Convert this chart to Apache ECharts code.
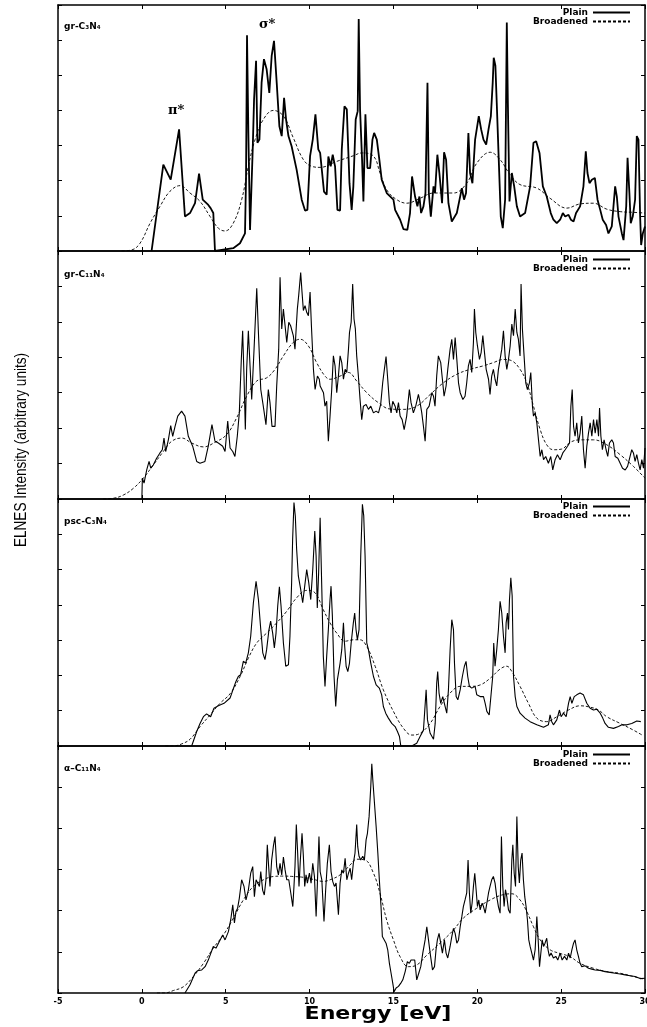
<!DOCTYPE html>
<html>
<head>
<meta charset="utf-8">
<title>ELNES</title>
<script src="https://cdn.jsdelivr.net/npm/echarts@6/dist/echarts.min.js"></script>
<style>
html,body{margin:0;padding:0;background:#fff;}
#main{width:647px;height:1027px;}
</style>
</head>
<body>
<div id="main"></div>
<script>
// panel labels and axis texts
var panelNames = ['gr-C₃N₄', 'gr-C₁₁N₄', 'psc-C₃N₄', 'α–C₁₁N₄'];
var seriesNames = ['Plain', 'Broadened'];
var xName = 'Energy [eV]';
var yName = 'ELNES Intensity (arbitrary units)';
var xMin = -5, xMax = 30, xStep = 5;
var yMax = [7, 7, 7, 6];

// gr-C3N4  [energy eV, intensity]
var plain1 = [[0.58,0],[1.28,2.46],[1.72,2.03],[2.22,3.46],[2.57,0.98],[2.87,1.08],[3.17,1.36],[3.41,2.2],[3.63,1.46],[3.96,1.31],[4.1,1.22],[4.26,1.08],[4.36,0],[5.45,0.08],[5.85,0.22],[6.15,0.5],[6.21,2.03],[6.27,6.14],[6.35,3.36],[6.45,0.6],[6.61,2.89],[6.69,4.31],[6.81,5.41],[6.89,3.08],[7.01,3.17],[7.14,4.79],[7.28,5.46],[7.44,5.17],[7.6,4.5],[7.74,5.55],[7.88,5.98],[8.04,4.79],[8.2,3.55],[8.34,3.27],[8.48,4.36],[8.6,3.74],[8.74,3.27],[8.93,2.98],[9.23,2.31],[9.53,1.46],[9.73,1.15],[9.87,1.17],[10.03,2.7],[10.19,3.17],[10.35,3.89],[10.52,2.89],
  [10.63,2.79],[10.86,1.69],[11.02,1.6],[11.12,2.69],[11.26,2.41],[11.38,2.74],[11.52,2.41],[11.66,1.17],[11.82,1.15],[11.92,2.89],[12.08,4.12],[12.22,4.03],[12.38,1.93],[12.51,1.17],[12.61,1.84],[12.75,3.74],[12.87,3.98],[12.93,6.6],[13.01,4.03],[13.13,2.6],[13.21,1.41],[13.33,3.89],[13.45,2.36],[13.61,2.36],[13.75,3.17],[13.85,3.36],[14.01,3.17],[14.16,2.6],[14.3,2.03],[14.6,1.65],[15.0,1.46],[15.1,1.17],[15.4,0.89],[15.6,0.62],[15.83,0.6],[15.99,1.08],[16.11,2.12],[16.29,1.55],[16.43,1.27],[16.55,1.55],[16.65,1.08],[16.79,1.27],[16.91,1.65],[17.03,4.79],[17.11,1.65],[17.23,0.98],[17.39,1.84],[17.48,1.65],[17.62,2.74],[17.74,2.22],[17.9,1.36],[18.02,2.81],[18.14,2.6],[18.28,1.36],[18.48,0.84],[18.78,1.08],[19.08,1.79],[19.21,1.46],[19.33,1.65],[19.47,3.36],[19.57,2.22],[19.71,1.93],[19.87,3.17],[20.09,3.84],[20.23,3.46],[20.37,3.17],[20.53,3.03],[20.67,3.46],[20.81,3.84],[20.92,4.79],[20.98,5.5],[21.08,5.27],[21.16,4.22],[21.28,2.6],[21.4,0.98],[21.52,0.65],[21.66,1.46],[21.76,6.5],[21.82,4.31],[21.92,1.41],[22.06,2.22],[22.2,1.84],[22.36,1.27],[22.55,0.98],[22.85,1.08],[23.15,1.84],[23.35,3.08],[23.51,3.12],[23.71,2.79],[23.91,1.84],[24.14,1.55],[24.38,1.08],[24.54,0.89],[24.74,0.79],[24.94,0.89],[25.1,1.08],[25.24,0.98],[25.44,1.03],[25.58,0.89],[25.74,0.84],[25.89,1.08],[26.13,1.27],[26.33,1.84],[26.47,2.84],[26.57,2.22],[26.69,1.93],[26.83,2.03],[27.01,2.08],[27.17,1.46],[27.33,1.17],[27.48,0.89],[27.68,0.74],[27.82,0.5],[28.02,0.7],[28.12,1.27],[28.22,1.84],[28.32,1.55],[28.42,0.98],[28.62,0.5],[28.72,0.31],[28.88,1.27],[28.96,2.65],[29.07,1.65],[29.15,0.79],[29.27,0.98],[29.41,1.46],[29.51,3.27],[29.61,3.17],[29.71,0.98],[29.77,0.17],[29.87,0.5],[30,0.7]];
var broad1 = [[-1.2,0],[-0.6,0.03],[-0.11,0.22],[0.49,0.79],[1.08,1.27],[1.68,1.7],[2.28,1.86],[2.87,1.65],[3.47,1.41],[4.07,0.98],[4.56,0.65],[4.96,0.57],[5.45,0.79],[5.95,1.46],[6.35,2.41],[6.75,3.17],[7.24,3.74],[7.84,4.0],[8.44,3.84],[9.03,3.22],[9.63,2.6],[10.12,2.41],[10.63,2.38],[11.62,2.55],[12.61,2.71],[13.11,2.79],[13.81,2.7],[14.2,2.22],[14.6,1.74],[15.2,1.46],[15.8,1.36],[16.59,1.5],[17.39,1.65],[18.58,1.65],[19.37,1.93],[19.97,2.5],[20.77,2.81],[21.36,2.6],[21.96,2.17],[22.55,1.89],[23.55,1.79],[24.34,1.5],[25.34,1.22],[26.13,1.34],[26.93,1.36],[27.72,1.19],[28.52,1.12],[29.31,1.1],[30,1.08]];

// gr-C11N4
var plain2 = [[0,0],[0.03,0.59],[0.13,0.45],[0.29,0.82],[0.43,1.06],[0.53,0.87],[0.68,0.96],[0.88,1.15],[1.08,1.3],[1.22,1.39],[1.32,1.72],[1.42,1.34],[1.58,1.67],[1.72,2.07],[1.84,1.77],[1.98,2.05],[2.14,2.34],[2.37,2.48],[2.57,2.34],[2.77,1.77],[3.03,1.49],[3.27,1.06],[3.47,1.01],[3.76,1.06],[3.96,1.49],[4.18,2.1],[4.36,1.63],[4.56,1.58],[4.82,1.49],[4.96,1.34],[5.12,2.2],[5.26,1.44],[5.42,1.34],[5.55,1.2],[5.69,1.77],[5.81,2.43],[5.93,3.94],[6.01,4.75],[6.09,3.47],[6.17,1.96],[6.25,3.66],[6.35,4.75],[6.45,3.76],[6.55,2.81],[6.69,4.23],[6.85,5.95],[6.95,4.7],[7.09,3.09],[7.24,2.62],[7.4,2.1],[7.54,3.09],[7.64,2.72],[7.76,2.05],[7.94,2.05],[8.04,3.19],[8.16,4.23],[8.24,6.26],[8.34,4.8],[8.44,5.36],[8.54,4.89],[8.64,4.42],[8.76,4.99],[8.87,4.89],[9.03,4.61],[9.13,4.23],[9.27,5.36],[9.35,5.74],[9.47,6.39],[9.55,5.84],[9.63,5.32],[9.73,5.46],[9.83,5.27],[9.93,5.17],[10.03,5.84],[10.11,4.89],[10.23,3.66],[10.33,3.09],[10.47,3.47],[10.58,3.38],
  [10.63,3.19],[10.83,3.0],[10.92,2.62],[11.02,2.76],[11.12,1.63],[11.22,2.34],[11.32,3.09],[11.42,4.04],[11.52,3.76],[11.62,3.0],[11.72,3.47],[11.82,4.04],[11.92,3.85],[12.02,3.38],[12.12,3.66],[12.22,3.57],[12.32,4.23],[12.38,4.7],[12.48,4.99],[12.57,6.07],[12.65,5.08],[12.73,4.8],[12.81,4.04],[12.91,3.47],[13.01,2.81],[13.11,2.24],[13.21,2.62],[13.37,2.67],[13.51,2.53],[13.65,2.62],[13.81,2.43],[13.97,2.48],[14.11,2.43],[14.24,2.67],[14.36,3.28],[14.46,3.66],[14.56,4.02],[14.66,3.38],[14.76,2.72],[14.86,2.43],[14.96,2.76],[15.1,2.62],[15.2,2.43],[15.3,2.72],[15.4,2.34],[15.52,2.24],[15.64,1.96],[15.79,2.34],[15.95,3.09],[16.05,2.72],[16.19,2.43],[16.33,2.62],[16.49,2.95],[16.59,2.72],[16.69,2.43],[16.79,2.05],[16.89,1.63],[16.99,2.53],[17.13,2.62],[17.29,3.0],[17.39,2.9],[17.48,2.62],[17.58,3.47],[17.68,4.04],[17.82,3.85],[17.92,3.38],[18.02,2.9],[18.14,3.19],[18.24,3.66],[18.38,4.23],[18.48,4.51],[18.58,3.94],[18.68,4.56],[18.78,3.94],[18.88,3.28],[18.98,3.0],[19.14,2.81],[19.27,2.9],[19.37,3.28],[19.47,3.76],[19.57,3.94],[19.67,3.57],[19.77,4.42],[19.83,5.36],[19.91,4.7],[20.01,4.32],[20.13,3.94],[20.23,4.13],[20.33,4.61],[20.41,4.23],[20.53,3.66],[20.67,3.38],[20.76,2.95],[20.86,3.47],[20.96,3.66],[21.06,3.38],[21.16,3.19],[21.26,3.66],[21.36,3.94],[21.46,4.23],[21.56,4.75],[21.66,4.04],[21.76,3.66],[21.86,3.94],[21.96,4.32],[22.06,4.94],[22.16,4.61],[22.26,5.36],[22.36,4.7],[22.45,4.51],[22.55,4.04],[22.61,6.07],[22.69,4.8],[22.79,4.04],[22.89,3.28],[22.99,3.09],[23.11,3.28],[23.19,3.57],[23.29,2.62],[23.35,2.34],[23.45,2.43],[23.55,2.15],[23.65,1.67],[23.75,1.2],[23.85,1.39],[23.95,1.11],[24.08,1.2],[24.24,1.01],[24.38,1.2],[24.5,0.82],[24.64,1.11],[24.78,1.25],[24.94,1.11],[25.1,1.3],[25.24,1.39],[25.38,1.49],[25.5,1.58],[25.58,2.62],[25.66,3.09],[25.74,2.05],[25.83,1.77],[25.93,2.15],[26.03,1.58],[26.13,1.86],[26.23,2.34],[26.33,1.39],[26.43,0.87],[26.53,1.49],[26.63,1.86],[26.73,2.15],[26.83,1.77],[26.93,2.24],[27.03,1.86],[27.13,2.24],[27.23,1.77],[27.29,2.57],[27.37,1.77],[27.46,1.39],[27.56,1.67],[27.68,1.39],[27.78,1.2],[27.88,1.58],[28.02,1.67],[28.12,1.58],[28.22,1.2],[28.38,1.15],[28.52,1.01],[28.66,0.87],[28.82,0.82],[28.96,0.92],[29.11,1.2],[29.21,1.39],[29.31,1.3],[29.41,1.06],[29.51,1.25],[29.61,1.01],[29.71,0.82],[29.81,1.11],[29.91,0.87],[30,1.44]];
var broad2 = [[-2.3,0],[-1.7,0.02],[-1.11,0.11],[-0.51,0.3],[0.09,0.59],[0.68,0.96],[1.28,1.34],[1.78,1.63],[2.38,1.72],[2.97,1.58],[3.67,1.47],[4.36,1.6],[5.06,1.82],[5.65,2.29],[6.25,2.9],[6.85,3.33],[7.44,3.42],[7.94,3.66],[8.44,4.04],[9.03,4.42],[9.43,4.51],[9.93,4.32],[10.42,3.85],[10.92,3.47],[11.22,3.38],[11.82,3.47],[12.32,3.57],[12.81,3.33],[13.41,3.0],[14.1,2.72],[14.8,2.54],[15.6,2.53],[16.39,2.62],[17.19,2.95],[17.98,3.28],[18.78,3.52],[19.57,3.66],[20.37,3.76],[20.96,3.85],[21.56,3.94],[22.06,3.9],[22.55,3.66],[22.95,3.28],[23.35,2.62],[23.75,1.96],[24.14,1.53],[24.54,1.39],[25.04,1.41],[25.54,1.6],[26.13,1.67],[26.93,1.67],[27.72,1.53],[28.52,1.25],[29.31,0.92],[30,0.59]];

// psc-C3N4
var plain3 = [[2.97,0],[3.27,0.41],[3.47,0.64],[3.67,0.83],[3.86,0.91],[4.1,0.83],[4.3,1.07],[4.56,1.14],[4.9,1.21],[5.26,1.36],[5.4,1.55],[5.61,1.83],[5.75,1.97],[5.89,2.02],[6.05,2.4],[6.19,2.35],[6.35,2.64],[6.49,3.11],[6.65,4.06],[6.81,4.67],[6.95,4.15],[7.09,3.3],[7.21,2.64],[7.34,2.45],[7.44,2.73],[7.58,3.3],[7.68,3.54],[7.8,3.2],[7.9,2.78],[8.0,3.2],[8.1,3.96],[8.2,4.51],[8.3,3.96],[8.44,2.92],[8.58,2.26],[8.74,2.3],[8.83,3.11],[8.93,4.63],[8.99,5.86],[9.07,6.9],[9.15,6.52],[9.23,5.57],[9.33,4.82],[9.47,4.44],[9.59,4.06],[9.71,4.53],[9.83,5.0],[9.95,4.63],[10.07,4.15],[10.19,5.0],[10.31,6.09],[10.39,5.38],[10.46,3.91],[10.54,4.91],
  [10.63,6.47],[10.73,4.44],[10.82,2.54],[10.92,1.69],[11.02,2.54],[11.12,3.3],[11.22,4.15],[11.28,4.53],[11.36,3.68],[11.46,1.97],[11.56,1.12],[11.66,1.88],[11.82,2.35],[11.92,2.73],[12.02,3.49],[12.08,2.92],[12.18,2.26],[12.28,2.11],[12.38,2.35],[12.48,2.92],[12.61,3.49],[12.69,3.77],[12.77,3.3],[12.85,3.01],[12.95,3.3],[13.05,5.38],[13.15,6.85],[13.23,6.52],[13.31,5.38],[13.41,2.92],[13.51,2.73],[13.65,2.35],[13.81,1.97],[13.97,1.73],[14.16,1.64],[14.3,1.45],[14.4,1.12],[14.54,0.93],[14.7,0.79],[14.9,0.64],[15.1,0.55],[15.24,0.41],[15.36,0.27],[15.44,0],[16.09,0],[16.39,0.08],[16.59,0.27],[16.79,0.45],[16.95,1.59],[17.03,0.74],[17.19,0.36],[17.39,0.19],[17.49,0.64],[17.58,1.78],[17.64,2.11],[17.72,1.5],[17.82,1.21],[17.94,1.4],[18.08,1.12],[18.18,0.93],[18.28,1.59],[18.38,2.73],[18.48,3.58],[18.58,3.3],[18.64,2.35],[18.74,1.4],[18.84,1.31],[18.98,1.59],[19.11,1.97],[19.23,2.26],[19.33,2.4],[19.43,1.97],[19.53,1.69],[19.67,1.64],[19.77,1.59],[19.87,1.69],[19.97,1.45],[20.07,1.5],[20.17,1.4],[20.27,1.45],[20.37,1.4],[20.47,1.21],[20.57,0.98],[20.71,0.88],[20.82,0.93],[20.92,1.97],[20.98,2.92],[21.06,2.26],[21.16,2.73],[21.26,3.3],[21.36,4.1],[21.46,3.77],[21.56,3.11],[21.66,2.64],[21.72,3.49],[21.8,3.77],[21.86,3.3],[21.92,4.15],[22.0,4.77],[22.08,4.25],[22.16,1.97],[22.26,1.4],[22.36,1.12],[22.55,0.93],[22.85,0.79],[23.15,0.69],[23.55,0.6],[23.95,0.53],[24.24,0.6],[24.34,0.88],[24.44,0.69],[24.54,0.6],[24.74,0.74],[24.9,1.02],[25.0,0.83],[25.14,0.93],[25.3,0.83],[25.44,1.21],[25.54,1.4],[25.64,1.21],[25.78,1.4],[25.93,1.45],[26.13,1.5],[26.33,1.45],[26.53,1.21],[26.73,1.07],[26.93,1.02],[27.13,1.04],[27.33,0.93],[27.48,0.79],[27.62,0.64],[27.82,0.53],[28.12,0.5],[28.42,0.55],[28.62,0.6],[28.92,0.6],[29.21,0.64],[29.51,0.71],[29.75,0.69]];
var broad3 = [[1.4,0],[1.88,0],[2.38,0.06],[2.87,0.19],[3.47,0.55],[4.07,0.88],[4.66,1.21],[5.26,1.48],[5.86,1.97],[6.35,2.49],[6.85,2.92],[7.44,3.2],[8.04,3.49],[8.64,3.82],[9.23,4.2],[9.83,4.41],[10.33,4.34],[10.81,3.87],[11.22,3.49],[11.62,3.2],[12.12,2.97],[12.61,3.01],[13.01,3.01],[13.41,2.82],[13.91,2.26],[14.4,1.59],[15.0,0.98],[15.6,0.5],[16.1,0.31],[16.59,0.36],[17.19,0.64],[17.78,1.12],[18.38,1.5],[18.98,1.69],[19.57,1.69],[20.17,1.73],[20.77,1.92],[21.36,2.18],[21.76,2.26],[22.06,2.11],[22.55,1.69],[23.05,1.21],[23.55,0.79],[24.14,0.69],[24.74,0.83],[25.44,1.02],[26.13,1.14],[26.73,1.1],[27.23,1.02],[27.72,0.83],[28.52,0.64],[29.31,0.45],[29.9,0.29]];

// alpha-C11N4
var plain4 = [[2.57,0],[2.87,0.2],[3.17,0.48],[3.31,0.54],[3.57,0.56],[3.77,0.64],[3.96,0.8],[4.26,1.13],[4.42,1.09],[4.62,1.25],[4.82,1.41],[4.96,1.29],[5.16,1.49],[5.3,1.78],[5.42,2.14],[5.52,1.7],[5.61,1.98],[5.71,2.06],[5.81,2.3],[5.95,2.75],[6.09,2.59],[6.21,2.26],[6.35,2.5],[6.49,2.91],[6.61,3.07],[6.71,2.34],[6.81,2.75],[6.91,2.67],[7.01,2.59],[7.09,2.95],[7.2,2.5],[7.3,2.38],[7.4,2.75],[7.48,3.6],[7.56,3.07],[7.64,2.59],[7.74,3.23],[7.84,3.56],[7.94,3.8],[8.04,3.07],[8.14,2.87],[8.24,3.15],[8.34,2.87],[8.44,3.3],[8.54,2.99],[8.64,2.75],[8.76,2.75],[8.88,2.43],[9.0,2.1],[9.07,2.59],[9.13,3.07],[9.21,4.09],[9.29,3.4],[9.37,2.59],[9.45,3.23],[9.55,3.88],[9.63,3.32],[9.71,2.59],[9.79,2.87],[9.87,2.67],[9.99,2.91],[10.09,2.67],[10.19,3.15],[10.29,2.83],[10.39,1.86],[10.46,2.59],[10.56,3.8],
  [10.63,2.95],[10.73,2.75],[10.86,1.74],[10.96,2.51],[11.06,3.15],[11.18,3.6],[11.28,2.95],[11.38,2.71],[11.48,2.59],[11.58,2.67],[11.72,1.9],[11.82,2.67],[11.92,2.99],[12.02,2.91],[12.12,3.27],[12.22,2.75],[12.32,2.91],[12.42,3.03],[12.51,2.75],[12.61,3.15],[12.71,3.4],[12.81,4.09],[12.87,3.56],[12.95,3.32],[13.05,3.23],[13.17,3.32],[13.27,3.23],[13.37,3.72],[13.45,3.88],[13.55,4.29],[13.65,5.02],[13.71,5.57],[13.77,5.18],[13.87,4.61],[13.97,4.04],[14.07,3.4],[14.16,2.75],[14.26,2.1],[14.34,1.37],[14.44,1.33],[14.56,1.21],[14.66,1.05],[14.76,0.72],[14.86,0.48],[14.96,0.24],[15.04,0.03],[15.16,0.12],[15.3,0.16],[15.44,0.24],[15.56,0.32],[15.7,0.52],[15.83,0.76],[15.95,0.72],[16.05,0.8],[16.15,0.76],[16.27,0.8],[16.39,0.32],[16.51,0.48],[16.63,0.64],[16.75,0.97],[16.89,1.29],[16.99,1.61],[17.09,1.29],[17.19,0.97],[17.33,0.56],[17.45,0.64],[17.54,1.05],[17.62,1.29],[17.72,1.45],[17.82,1.21],[17.92,0.97],[18.04,1.29],[18.14,0.97],[18.24,0.85],[18.38,1.13],[18.48,1.37],[18.58,1.57],[18.68,1.45],[18.78,1.21],[18.88,1.29],[18.98,1.61],[19.08,1.86],[19.17,2.1],[19.27,2.26],[19.37,2.43],[19.45,3.23],[19.53,2.43],[19.61,1.94],[19.69,2.18],[19.77,2.59],[19.85,2.91],[19.93,2.51],[20.01,2.1],[20.09,2.26],[20.17,2.02],[20.29,2.18],[20.37,2.1],[20.47,1.94],[20.57,2.18],[20.67,2.43],[20.76,2.59],[20.86,2.75],[20.96,2.83],[21.06,2.67],[21.16,2.34],[21.26,2.1],[21.36,1.94],[21.44,3.8],[21.52,2.59],[21.6,2.1],[21.68,2.51],[21.76,2.34],[21.86,2.02],[21.96,1.94],[22.06,3.23],[22.12,3.6],[22.2,2.91],[22.28,2.59],[22.36,4.29],[22.44,3.07],[22.51,2.67],[22.59,3.23],[22.67,3.4],[22.75,2.75],[22.83,2.34],[22.91,2.1],[22.99,1.78],[23.07,1.29],[23.15,1.13],[23.25,0.97],[23.35,0.8],[23.45,1.05],[23.55,1.86],[23.63,1.29],[23.71,0.64],[23.79,0.97],[23.87,1.29],[23.95,1.13],[24.04,1.21],[24.14,1.33],[24.22,1.05],[24.3,0.89],[24.4,0.97],[24.54,0.85],[24.68,0.89],[24.8,0.8],[24.94,0.97],[25.06,0.8],[25.2,0.89],[25.34,0.8],[25.44,0.97],[25.54,0.85],[25.64,1.05],[25.74,1.21],[25.83,1.29],[25.93,1.05],[26.03,0.89],[26.13,0.72],[26.23,0.64],[26.43,0.66],[26.63,0.6],[26.83,0.58],[27.03,0.56],[27.33,0.55],[27.62,0.52],[27.92,0.5],[28.22,0.48],[28.52,0.46],[28.82,0.44],[29.11,0.42],[29.41,0.4],[29.71,0.35],[30,0.36]];
var broad4 = [[0.9,0],[1.38,0],[1.88,0.06],[2.47,0.15],[3.07,0.4],[3.67,0.72],[4.26,1.09],[4.86,1.41],[5.46,1.82],[6.05,2.26],[6.65,2.59],[7.25,2.75],[7.84,2.83],[8.44,2.84],[9.03,2.83],[9.63,2.81],[10.23,2.76],[10.82,2.71],[11.22,2.75],[11.82,2.87],[12.42,3.11],[12.81,3.25],[13.31,3.23],[13.81,2.91],[14.2,2.42],[14.6,1.77],[15.0,1.29],[15.4,0.88],[15.89,0.64],[16.39,0.68],[16.99,0.92],[17.78,1.21],[18.58,1.53],[19.17,1.82],[19.97,2.06],[20.77,2.26],[21.46,2.38],[22.06,2.41],[22.55,2.26],[22.95,1.98],[23.35,1.61],[23.75,1.29],[24.34,1.05],[24.94,0.96],[25.54,0.88],[26.13,0.72],[26.93,0.6],[27.72,0.52],[28.52,0.48],[29.31,0.4],[30,0.33]];

var plains = [plain1, plain2, plain3, plain4];
var broads = [broad1, broad2, broad3, broad4];

// layout of the four stacked panels (px)
var gridTops = [5, 251, 499, 746];
var gridHeights = [246, 248, 247, 247];
var legendTops = [8, 255, 502, 750];
var labelTops = [22, 270, 517, 764];
var plainWidths = [1.8, 1.1, 1.1, 1.1];

var chart = echarts.init(document.getElementById('main'), null, {renderer: 'canvas'});

var black = '#000';
var grids = [], xAxes = [], yAxes = [], series = [], legends = [], graphics = [];

function axisBase(extra) {
	var a = {
		axisLine: {show: true, onZero: false, lineStyle: {color: black, width: 1.5}},
		axisTick: {show: true, inside: true, length: 4, lineStyle: {color: black, width: 1}},
		axisLabel: {show: false},
		splitLine: {show: false}
	};
	for (var k in extra) a[k] = extra[k];
	return a;
}

for (var i = 0; i < 4; i++) {
	grids.push({left: 58, right: 2, top: gridTops[i], height: gridHeights[i], containLabel: false, outerBoundsMode: 'none'});
	var bottomX = axisBase({gridIndex: i, type: 'value', position: 'bottom', min: xMin, max: xMax, interval: xStep});
	if (i === 3) {
		bottomX.axisLabel = {show: true, margin: 5, color: black, fontFamily: 'DejaVu Sans', fontWeight: 'bold', fontSize: 8,
			showMinLabel: true, showMaxLabel: true, hideOverlap: false};
	}
	xAxes.push(bottomX);
	xAxes.push(axisBase({gridIndex: i, type: 'value', position: 'top', min: xMin, max: xMax, interval: xStep}));
	yAxes.push(axisBase({gridIndex: i, type: 'value', position: 'left', min: 0, max: yMax[i], interval: 1}));
	yAxes.push(axisBase({gridIndex: i, type: 'value', position: 'right', min: 0, max: yMax[i], interval: 1}));

	series.push({
		name: seriesNames[0] + '#' + i, type: 'line', xAxisIndex: 2 * i, yAxisIndex: 2 * i,
		data: plains[i], symbol: 'none', color: black,
		lineStyle: {color: black, width: plainWidths[i]}, z: 3
	});
	series.push({
		name: seriesNames[1] + '#' + i, type: 'line', xAxisIndex: 2 * i, yAxisIndex: 2 * i,
		data: broads[i], symbol: 'none', smooth: 0.4, color: black,
		lineStyle: {color: black, width: 0.9, type: [3, 2]}, z: 2
	});

	// legend: text on the left, line sample on the right, no symbol
	legends.push({
		orient: 'vertical', right: 16, top: legendTops[i], padding: 0,
		itemWidth: 37, itemHeight: 8, itemGap: 0, align: 'right', selectedMode: false,
		itemStyle: {opacity: 0},
		data: [seriesNames[0] + '#' + i, seriesNames[1] + '#' + i],
		formatter: function (name) { return name.split('#')[0]; },
		textStyle: {color: black, fontFamily: 'DejaVu Sans', fontWeight: 'bold', fontSize: 9, lineHeight: 8}
	});

	graphics.push({
		type: 'text', left: 64, top: labelTops[i],
		style: {text: panelNames[i], fill: black, font: 'bold 9px "DejaVu Sans"'}
	});
}

// peak annotations in the top panel
graphics.push({type: 'text', left: 168, top: 104, style: {text: 'π*', fill: black, font: 'bold 13px "DejaVu Serif"'}});
graphics.push({type: 'text', left: 259, top: 18, style: {text: 'σ*', fill: black, font: 'bold 13px "DejaVu Serif"'}});

// axis titles
graphics.push({
	type: 'text', x: 378, y: 1015, scaleX: 1.3,
	style: {text: xName, fill: black, font: 'bold 17px "DejaVu Sans"', align: 'center', verticalAlign: 'middle'}
});
graphics.push({
	type: 'text', x: 21, y: 450, rotation: Math.PI / 2, scaleX: 0.8,
	style: {text: yName, fill: black, font: '17px "Liberation Sans"', align: 'center', verticalAlign: 'middle'}
});

chart.setOption({
	backgroundColor: '#fff',
	animation: false,
	grid: grids,
	xAxis: xAxes,
	yAxis: yAxes,
	legend: legends,
	series: series,
	graphic: graphics
});
</script>
</body>
</html>
